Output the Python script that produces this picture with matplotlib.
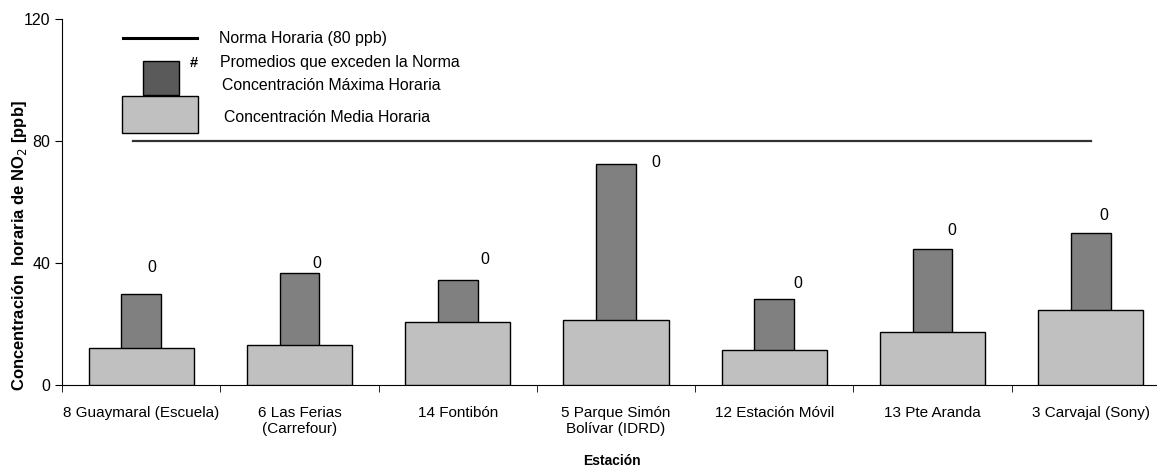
import numpy as np
import matplotlib
matplotlib.use("Agg")
import matplotlib.pyplot as plt
from matplotlib.patches import Rectangle
from matplotlib.lines import Line2D

plt.rcParams['font.family'] = ['Liberation Sans', 'DejaVu Sans']

# datos
estaciones = ['8 Guaymaral (Escuela)', '6 Las Ferias\n(Carrefour)', '14 Fontibón',
              '5 Parque Simón\nBolívar (IDRD)', '12 Estación Móvil', '13 Pte Aranda',
              '3 Carvajal (Sony)']
media = [12.2, 13.1, 20.7, 21.4, 11.4, 17.3, 24.5]      # concentracion media horaria
maxima = [29.9, 36.6, 34.5, 72.5, 28.2, 44.7, 49.7]     # concentracion maxima horaria
excedencias = [0, 0, 0, 0, 0, 0, 0]                     # promedios que exceden la norma
etiq_y = [38.4, 40.0, 41.3, 73.1, 33.4, 50.8, 55.5]     # altura de las etiquetas
etiq_dx = [0.07, 0.11, 0.17, 0.25, 0.15, 0.12, 0.08]
norma = 80

W, H = 1157, 471
fig = plt.figure(figsize=(W/100, H/100), dpi=100)
ax = fig.add_axes([62/W, 1-385/H, (1170-62)/W, (385-19)/H])

x = np.arange(len(estaciones))
ax.bar(x, maxima, width=0.25, color='#808080', edgecolor='black', linewidth=1, zorder=2)
ax.bar(x, media, width=0.665, color='#c0c0c0', edgecolor='black', linewidth=1, zorder=3)
ax.plot([-0.05, 6], [norma, norma], color='#333333', lw=1.6, zorder=4)

for i in range(len(x)):
    ax.text(x[i] + etiq_dx[i], etiq_y[i], str(excedencias[i]), ha='center', va='center', fontsize=11.5)

ax.set_xlim(-0.5, 6.5)
ax.set_ylim(0, 120)
ax.set_yticks([0, 40, 80, 120])
ax.set_xticks(x)
ax.set_xticklabels(estaciones, fontsize=11, va='top')
ax.tick_params(axis='x', length=0, pad=15)
ax.set_xticks(np.arange(-0.5, 6.6, 1), minor=True)
ax.tick_params(axis='x', which='minor', length=5, direction='out')
ax.tick_params(axis='y', length=5, direction='out', labelsize=11.5)
ax.spines['top'].set_visible(False)
ax.spines['right'].set_visible(False)
ax.set_ylabel('Concentración  horaria de NO$_2$ [ppb]', fontsize=12, fontweight='bold', va='center')
ax.yaxis.set_label_coords(-0.038, 0.38)

# leyenda dibujada a mano
def fx(px):
    return px / W

def fy(py):
    return 1 - py / H

fig.text(fx(612), fy(461), 'Estación', ha='center', va='center', fontsize=10, fontweight='bold')

fig.add_artist(Line2D([fx(123), fx(197)], [fy(38), fy(38)], color='black', lw=2.2))
fig.add_artist(Rectangle((fx(143), fy(95)), fx(179) - fx(143), fy(61) - fy(95),
                         facecolor='#5a5a5a', edgecolor='black', lw=1))
fig.add_artist(Rectangle((fx(122), fy(133)), fx(198) - fx(122), fy(96) - fy(133),
                         facecolor='#c0c0c0', edgecolor='black', lw=1))
fig.text(fx(219), fy(38), 'Norma Horaria (80 ppb)', va='center', fontsize=11.4)
fig.text(fx(190), fy(63), '#', va='center', fontsize=10.5, fontweight='bold')
fig.text(fx(220), fy(63), 'Promedios que exceden la Norma', va='center', fontsize=11.4)
fig.text(fx(222), fy(85), 'Concentración Máxima Horaria', va='center', fontsize=11.4)
fig.text(fx(224), fy(117), 'Concentración Media Horaria', va='center', fontsize=11.4)

fig.savefig('out.png', dpi=100)
